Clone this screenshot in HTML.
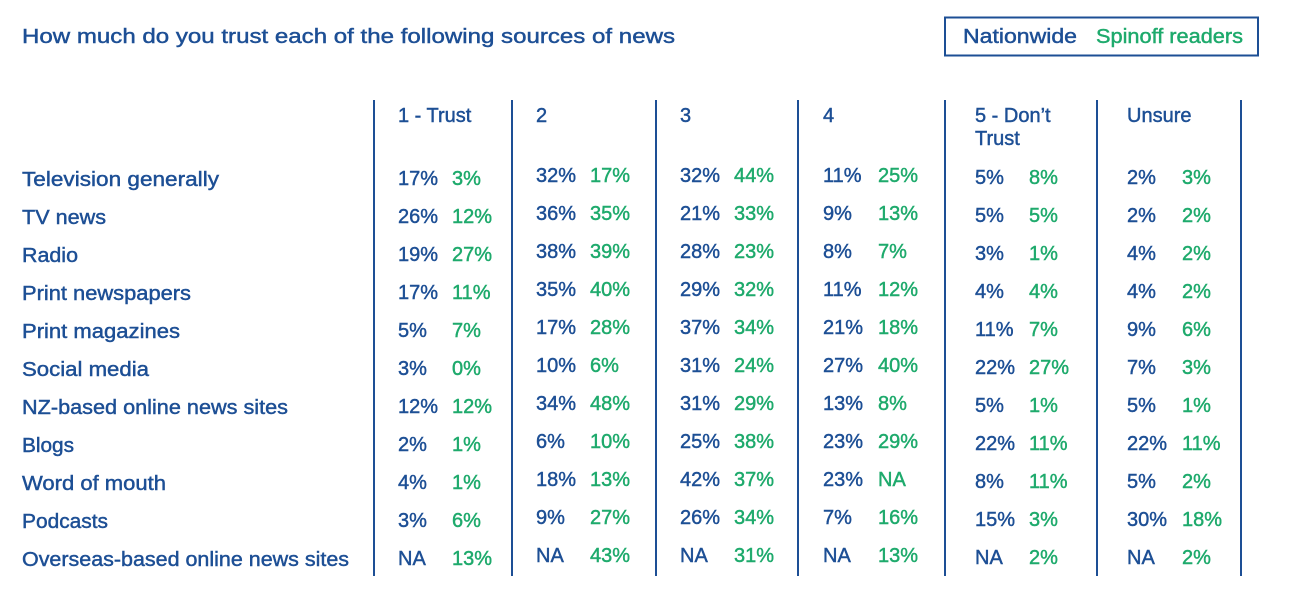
<!DOCTYPE html>
<html><head><meta charset="utf-8"><style>
html,body{margin:0;padding:0;background:#fff;}
svg{display:block;}
text{font-family:"Liberation Sans",sans-serif;font-size:20px;dominant-baseline:central;stroke-width:0.45px;}
.b{fill:#1d4f95;stroke:#1d4f95;}
.g{fill:#1eaa6c;stroke:#1eaa6c;}
</style></head><body>
<svg width="1290" height="602" xmlns="http://www.w3.org/2000/svg">
<text class="b" x="22" y="37" font-size="21" textLength="653" lengthAdjust="spacingAndGlyphs">How much do you trust each of the following sources of news</text>
<rect x="945" y="17.5" width="313" height="38" fill="none" stroke="#1d4f95" stroke-width="2"/>
<text class="b" x="963" y="37" textLength="114" lengthAdjust="spacingAndGlyphs">Nationwide</text>
<text class="g" x="1096" y="37" textLength="147" lengthAdjust="spacingAndGlyphs">Spinoff readers</text>
<g stroke="#1d4f95" stroke-width="2">
<line x1="374" y1="100" x2="374" y2="576"/><line x1="512" y1="100" x2="512" y2="576"/>
<line x1="656" y1="100" x2="656" y2="576"/><line x1="798" y1="100" x2="798" y2="576"/>
<line x1="945" y1="100" x2="945" y2="576"/><line x1="1097" y1="100" x2="1097" y2="576"/>
<line x1="1241" y1="100" x2="1241" y2="576"/>
</g>
<g class="b">
<text x="398" y="116">1 - Trust</text><text x="536" y="116">2</text><text x="680" y="116">3</text>
<text x="823" y="116">4</text><text x="975" y="116">5 - Don’t</text><text x="975" y="139">Trust</text>
<text x="1127" y="116">Unsure</text>
<text x="22" y="180" textLength="197" lengthAdjust="spacingAndGlyphs">Television generally</text>
<text x="22" y="218" textLength="84" lengthAdjust="spacingAndGlyphs">TV news</text>
<text x="22" y="256" textLength="56" lengthAdjust="spacingAndGlyphs">Radio</text>
<text x="22" y="294" textLength="169" lengthAdjust="spacingAndGlyphs">Print newspapers</text>
<text x="22" y="332" textLength="158" lengthAdjust="spacingAndGlyphs">Print magazines</text>
<text x="22" y="370" textLength="127" lengthAdjust="spacingAndGlyphs">Social media</text>
<text x="22" y="408" textLength="266" lengthAdjust="spacingAndGlyphs">NZ-based online news sites</text>
<text x="22" y="446" textLength="52" lengthAdjust="spacingAndGlyphs">Blogs</text>
<text x="22" y="484" textLength="144" lengthAdjust="spacingAndGlyphs">Word of mouth</text>
<text x="22" y="522" textLength="86" lengthAdjust="spacingAndGlyphs">Podcasts</text>
<text x="22" y="560" textLength="327" lengthAdjust="spacingAndGlyphs">Overseas-based online news sites</text>
</g>
<g class="b">
<text x="398" y="179">17%</text><text x="536" y="176">32%</text><text x="680" y="176">32%</text><text x="823" y="176">11%</text><text x="975" y="178">5%</text><text x="1127" y="178">2%</text>
<text x="398" y="217">26%</text><text x="536" y="214">36%</text><text x="680" y="214">21%</text><text x="823" y="214">9%</text><text x="975" y="216">5%</text><text x="1127" y="216">2%</text>
<text x="398" y="255">19%</text><text x="536" y="252">38%</text><text x="680" y="252">28%</text><text x="823" y="252">8%</text><text x="975" y="254">3%</text><text x="1127" y="254">4%</text>
<text x="398" y="293">17%</text><text x="536" y="290">35%</text><text x="680" y="290">29%</text><text x="823" y="290">11%</text><text x="975" y="292">4%</text><text x="1127" y="292">4%</text>
<text x="398" y="331">5%</text><text x="536" y="328">17%</text><text x="680" y="328">37%</text><text x="823" y="328">21%</text><text x="975" y="330">11%</text><text x="1127" y="330">9%</text>
<text x="398" y="369">3%</text><text x="536" y="366">10%</text><text x="680" y="366">31%</text><text x="823" y="366">27%</text><text x="975" y="368">22%</text><text x="1127" y="368">7%</text>
<text x="398" y="407">12%</text><text x="536" y="404">34%</text><text x="680" y="404">31%</text><text x="823" y="404">13%</text><text x="975" y="406">5%</text><text x="1127" y="406">5%</text>
<text x="398" y="445">2%</text><text x="536" y="442">6%</text><text x="680" y="442">25%</text><text x="823" y="442">23%</text><text x="975" y="444">22%</text><text x="1127" y="444">22%</text>
<text x="398" y="483">4%</text><text x="536" y="480">18%</text><text x="680" y="480">42%</text><text x="823" y="480">23%</text><text x="975" y="482">8%</text><text x="1127" y="482">5%</text>
<text x="398" y="521">3%</text><text x="536" y="518">9%</text><text x="680" y="518">26%</text><text x="823" y="518">7%</text><text x="975" y="520">15%</text><text x="1127" y="520">30%</text>
<text x="398" y="559">NA</text><text x="536" y="556">NA</text><text x="680" y="556">NA</text><text x="823" y="556">NA</text><text x="975" y="558">NA</text><text x="1127" y="558">NA</text>
</g>
<g class="g">
<text x="452" y="179">3%</text><text x="590" y="176">17%</text><text x="734" y="176">44%</text><text x="878" y="176">25%</text><text x="1029" y="178">8%</text><text x="1182" y="178">3%</text>
<text x="452" y="217">12%</text><text x="590" y="214">35%</text><text x="734" y="214">33%</text><text x="878" y="214">13%</text><text x="1029" y="216">5%</text><text x="1182" y="216">2%</text>
<text x="452" y="255">27%</text><text x="590" y="252">39%</text><text x="734" y="252">23%</text><text x="878" y="252">7%</text><text x="1029" y="254">1%</text><text x="1182" y="254">2%</text>
<text x="452" y="293">11%</text><text x="590" y="290">40%</text><text x="734" y="290">32%</text><text x="878" y="290">12%</text><text x="1029" y="292">4%</text><text x="1182" y="292">2%</text>
<text x="452" y="331">7%</text><text x="590" y="328">28%</text><text x="734" y="328">34%</text><text x="878" y="328">18%</text><text x="1029" y="330">7%</text><text x="1182" y="330">6%</text>
<text x="452" y="369">0%</text><text x="590" y="366">6%</text><text x="734" y="366">24%</text><text x="878" y="366">40%</text><text x="1029" y="368">27%</text><text x="1182" y="368">3%</text>
<text x="452" y="407">12%</text><text x="590" y="404">48%</text><text x="734" y="404">29%</text><text x="878" y="404">8%</text><text x="1029" y="406">1%</text><text x="1182" y="406">1%</text>
<text x="452" y="445">1%</text><text x="590" y="442">10%</text><text x="734" y="442">38%</text><text x="878" y="442">29%</text><text x="1029" y="444">11%</text><text x="1182" y="444">11%</text>
<text x="452" y="483">1%</text><text x="590" y="480">13%</text><text x="734" y="480">37%</text><text x="878" y="480">NA</text><text x="1029" y="482">11%</text><text x="1182" y="482">2%</text>
<text x="452" y="521">6%</text><text x="590" y="518">27%</text><text x="734" y="518">34%</text><text x="878" y="518">16%</text><text x="1029" y="520">3%</text><text x="1182" y="520">18%</text>
<text x="452" y="559">13%</text><text x="590" y="556">43%</text><text x="734" y="556">31%</text><text x="878" y="556">13%</text><text x="1029" y="558">2%</text><text x="1182" y="558">2%</text>
</g>
</svg>
</body></html>
